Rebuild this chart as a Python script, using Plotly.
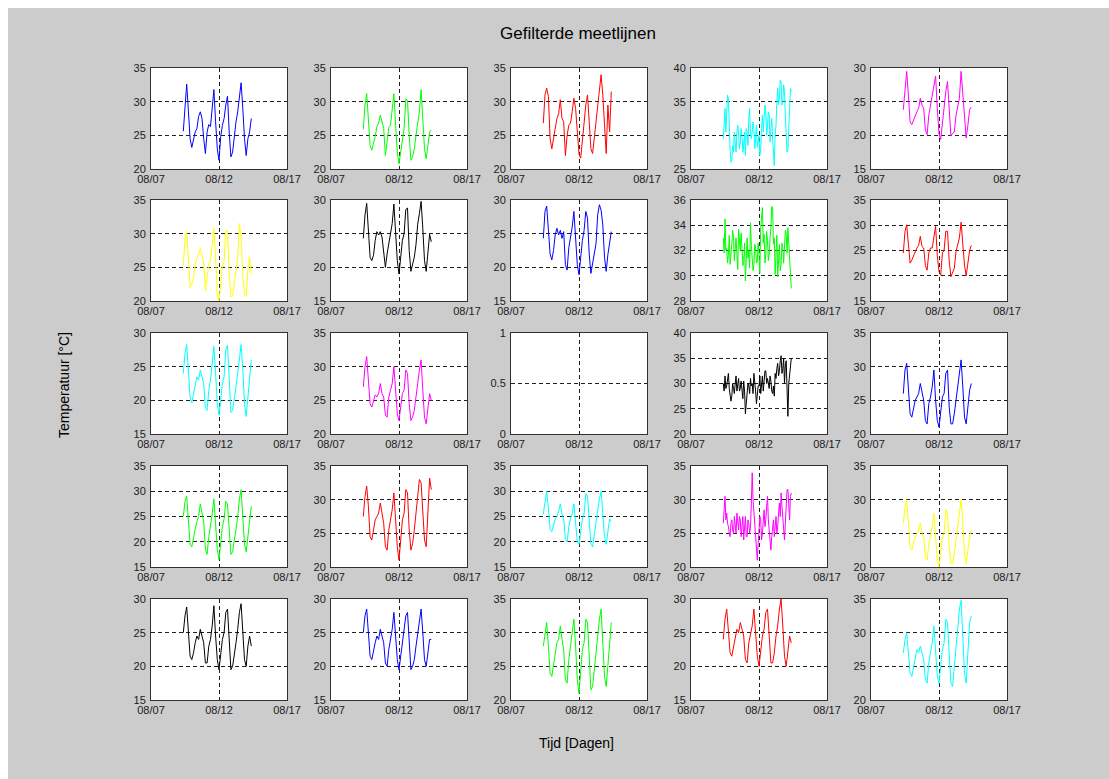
import pandas as pd
import plotly.graph_objects as go

# Canvas size in pixels
W, H = 1109, 779

# Measurement timestamps, 9 Aug 09:00 .. 14 Aug 09:00
TIMES = pd.date_range("2010-08-09 09:00", periods=41, freq="3h")        # 3-hourly
TIMES_FINE = pd.date_range("2010-08-09 09:00", periods=81, freq="90min")  # 1.5-hourly

# Filtered temperature series per sensor [°C]
sensor_01 = [25.6, 28.8, 32.6, 28.6, 24.5, 23.2, 24.2, 25.5, 26.0, 27.8, 28.5, 27.5, 24.5, 22.3,
             25.5, 26.6, 26.3, 28.8, 31.8, 27.0, 23.0, 21.3, 24.8, 26.5, 27.5, 29.5, 30.8, 25.5,
             21.8, 22.5, 25.0, 27.0, 28.5, 30.5, 32.8, 29.0, 24.5, 22.0, 24.5, 25.5, 27.5]
sensor_02 = [25.9, 29.5, 31.2, 27.0, 23.5, 22.8, 23.8, 24.8, 26.3, 26.8, 28.0, 26.8, 26.0, 22.0,
             24.5, 26.2, 26.5, 28.5, 31.2, 26.5, 22.5, 20.8, 22.5, 24.5, 26.0, 30.4, 30.2, 25.0,
             21.3, 21.8, 23.0, 25.0, 26.5, 28.5, 31.8, 27.5, 23.0, 21.5, 23.5, 25.5, 25.8]
sensor_03 = [26.8, 31.0, 32.0, 30.8, 24.5, 23.0, 24.5, 26.0, 27.5, 28.2, 30.3, 27.5, 27.0, 22.0,
             25.0, 26.5, 26.8, 28.5, 30.5, 29.0, 25.5, 22.2, 21.6, 24.5, 27.5, 29.5, 31.0, 26.5,
             23.0, 22.3, 24.5, 27.0, 29.5, 31.5, 34.0, 31.0, 26.0, 22.3, 29.5, 25.5, 31.5]
sensor_04 = [29.5, 32.0, 34.0, 30.5, 33.0, 36.0, 35.5, 31.0, 27.8, 26.0,
             26.2, 28.5, 27.5, 30.5, 29.0, 27.5, 30.5, 31.5, 30.2, 28.0,
             29.0, 31.0, 30.0, 27.5, 28.5, 30.5, 27.0, 31.0, 30.5, 28.5,
             32.5, 34.0, 30.0, 29.5, 30.5, 32.0, 31.0, 28.0, 29.5, 31.5,
             28.2, 29.0, 30.0, 27.0, 28.0, 31.0, 33.0, 30.5, 32.0, 34.5,
             33.5, 30.0, 31.5, 33.5, 33.0, 29.0, 31.0, 32.5, 29.5, 27.5,
             25.5, 30.0, 31.5, 35.0, 37.0, 34.5, 35.5, 38.2, 37.8, 34.5,
             35.0, 37.5, 36.5, 33.0, 30.0, 27.5, 27.8, 30.5, 33.5, 37.0,
             36.5]
sensor_05 = [23.8, 26.5, 29.5, 26.0, 22.0, 21.6, 22.3, 23.0, 23.5, 24.0, 25.5, 24.5, 24.0, 20.8,
             20.1, 23.0, 24.5, 25.5, 27.5, 28.8, 24.0, 20.2, 19.4, 22.0, 23.6, 26.5, 28.0, 23.5,
             19.9, 20.3, 20.5, 23.0, 24.3, 25.5, 29.5, 26.0, 22.0, 19.6, 21.5, 23.8, 24.2]
sensor_06 = [25.3, 29.3, 30.3, 26.5, 22.0, 22.5, 23.5, 25.5, 26.3, 27.0, 27.8, 26.8, 25.5, 21.5,
             23.5, 25.5, 26.0, 28.5, 30.8, 26.5, 21.0, 20.0, 23.0, 25.3, 25.8, 30.5, 30.4, 24.0,
             20.6, 20.8, 22.5, 24.3, 26.5, 31.5, 29.5, 24.0, 20.8, 20.7, 24.5, 26.5, 24.0]
sensor_07 = [24.3, 27.8, 29.5, 25.5, 21.5, 21.0, 21.8, 24.0, 25.3, 24.8, 25.3, 24.5, 22.5, 20.0,
             22.0, 23.5, 24.8, 26.5, 29.4, 24.5, 21.0, 19.0, 21.5, 24.0, 25.0, 28.6, 28.8, 22.5,
             19.4, 20.5, 21.5, 23.4, 26.4, 28.0, 29.8, 25.8, 21.0, 19.4, 22.9, 24.9, 23.8]
sensor_08 = [24.3, 28.3, 29.1, 25.8, 22.0, 21.1, 22.5, 24.8, 25.8, 24.8, 25.5, 24.3, 25.3, 20.4,
             19.6, 22.9, 24.3, 26.0, 28.3, 24.8, 20.4, 18.9, 22.0, 24.0, 25.5, 28.3, 27.3, 22.0,
             19.1, 20.4, 22.0, 23.5, 27.8, 29.3, 28.5, 26.3, 21.5, 19.4, 21.9, 23.8, 25.3]
sensor_09 = [33.0, 31.8, 34.5, 32.0, 32.2, 31.0, 31.7, 33.2, 30.9, 31.5,
             32.5, 33.6, 33.0, 31.2, 32.0, 33.0, 31.7, 30.5, 33.7, 32.2,
             32.0, 33.4, 32.3, 30.8, 31.0, 32.6, 29.6, 31.5, 33.0, 31.4,
             32.0, 30.6, 34.2, 32.4, 31.7, 30.4, 30.9, 32.5, 32.2, 31.0,
             31.1, 32.6, 31.7, 30.2, 33.8, 34.8, 35.4, 32.6, 33.3, 31.0,
             31.7, 33.5, 32.8, 31.2, 31.7, 33.0, 33.8, 35.5, 35.4, 32.5,
             33.0, 30.1, 31.5, 33.2, 29.9, 31.0, 32.5, 30.4, 30.9, 32.6,
             32.2, 31.0, 32.8, 33.6, 33.3, 31.8, 33.8, 32.4, 31.7, 30.3,
             29.0]
sensor_10 = [24.5, 28.8, 30.1, 26.5, 22.5, 23.1, 24.0, 25.0, 25.5, 26.0, 27.8, 25.8, 25.5, 22.0,
             21.1, 24.5, 25.5, 25.5, 27.5, 29.8, 24.0, 20.8, 20.1, 24.5, 25.1, 28.8, 28.8, 23.0,
             19.8, 20.5, 21.5, 24.8, 26.0, 27.5, 30.6, 26.8, 22.1, 20.0, 23.0, 25.0, 26.0]
sensor_11 = [24.0, 27.0, 28.3, 25.0, 20.5, 19.6, 21.0, 22.5, 23.5, 23.0, 24.5, 23.5, 22.5, 18.8,
             18.5, 21.5, 23.0, 25.5, 28.0, 24.0, 19.5, 17.8, 20.5, 22.5, 23.5, 27.5, 28.2, 22.5,
             18.2, 18.5, 20.0, 22.0, 24.0, 26.5, 28.3, 24.5, 19.5, 17.6, 20.5, 24.0, 26.0]
sensor_12 = [27.0, 30.0, 31.5, 28.0, 24.5, 24.0, 25.0, 25.8, 25.5, 26.0, 27.5, 26.0, 25.5, 22.8,
             22.5, 25.5, 26.5, 27.5, 30.0, 26.0, 23.0, 22.0, 24.0, 26.0, 26.5, 29.5, 29.0, 24.5,
             22.0, 22.5, 23.5, 26.0, 27.5, 29.5, 31.0, 26.5, 22.5, 21.5, 23.5, 26.0, 25.0]
sensor_13 = []  # no valid readings
sensor_14 = [30.0, 28.5, 31.5, 29.0, 29.5, 31.0, 32.0, 29.0, 28.0, 26.5,
             27.5, 30.0, 29.0, 28.0, 30.0, 31.5, 28.5, 30.0, 31.0, 28.5,
             29.0, 30.5, 28.0, 27.0, 30.5, 28.5, 24.0, 26.5, 27.5, 30.0,
             29.5, 28.0, 31.0, 29.5, 30.0, 28.0, 32.0, 30.5, 28.5, 26.0,
             27.5, 29.5, 29.5, 31.5, 28.0, 29.5, 31.5, 28.5, 30.0, 32.5,
             32.5, 30.0, 31.0, 29.5, 29.0, 31.5, 30.5, 28.5, 28.0, 29.5,
             27.5, 32.0, 31.0, 33.0, 34.0, 31.5, 32.5, 34.5, 35.5, 32.0,
             33.0, 35.0, 30.0, 33.5, 34.5, 29.0, 23.5, 30.0, 32.0, 34.0,
             35.0]
sensor_15 = [26.0, 29.5, 30.5, 27.0, 23.0, 22.5, 24.0, 25.0, 25.5, 26.0, 27.5, 26.0, 25.0, 22.0,
             21.5, 24.5, 25.5, 27.0, 29.5, 25.0, 22.0, 21.0, 23.5, 25.5, 26.0, 29.0, 29.5, 24.0,
             21.5, 21.5, 23.0, 25.0, 26.5, 28.5, 31.0, 27.0, 22.5, 21.5, 24.0, 26.5, 27.5]
sensor_16 = [25.0, 28.0, 29.0, 24.5, 19.5, 19.0, 21.0, 22.5, 24.0, 25.0, 27.5, 25.5, 24.0, 18.5,
             17.5, 21.0, 23.0, 25.5, 28.5, 24.0, 18.5, 16.5, 20.0, 23.0, 24.5, 28.0, 27.5, 21.5,
             17.5, 18.0, 20.0, 22.5, 25.0, 28.5, 30.3, 25.0, 19.5, 18.0, 21.0, 25.0, 27.0]
sensor_17 = [27.5, 30.5, 32.0, 29.0, 24.5, 24.0, 25.5, 27.0, 27.5, 28.0, 29.5, 28.0, 26.5, 23.0,
             22.5, 25.5, 27.0, 28.5, 31.0, 27.0, 23.0, 21.0, 24.0, 27.0, 28.0, 31.5, 31.0, 25.5,
             22.5, 23.5, 25.5, 28.0, 30.0, 33.0, 32.5, 29.0, 24.0, 23.0, 28.0, 33.2, 31.5]
sensor_18 = [25.5, 28.0, 30.0, 26.5, 22.5, 22.0, 23.5, 24.5, 25.0, 26.0, 27.5, 25.5, 24.5, 20.5,
             20.0, 23.0, 24.5, 25.5, 27.5, 24.0, 20.0, 19.5, 22.5, 24.5, 25.5, 29.5, 29.0, 23.5,
             19.5, 19.0, 21.5, 23.5, 25.5, 28.5, 30.0, 26.0, 21.0, 19.5, 22.0, 24.5, 24.0]
sensor_19 = [26.5, 29.0, 30.5, 27.0, 28.0, 26.5, 26.0, 25.0, 24.5, 26.5,
             27.0, 25.5, 25.0, 27.5, 26.5, 25.0, 28.0, 26.0, 25.5, 27.5,
             27.0, 24.5, 26.0, 27.5, 24.0, 25.5, 27.5, 24.5, 24.5, 27.0,
             26.5, 25.0, 26.0, 29.5, 34.0, 30.0, 28.0, 25.5, 24.0, 22.5,
             21.0, 23.5, 25.5, 27.5, 27.0, 24.0, 25.0, 27.0, 28.5, 26.0,
             27.0, 29.0, 30.5, 27.0, 25.5, 23.5, 22.5, 24.5, 26.0, 27.0,
             24.5, 26.0, 27.5, 25.0, 26.0, 28.0, 29.5, 27.5, 31.0, 29.0,
             27.0, 25.0, 24.0, 26.5, 28.5, 31.5, 31.5, 28.0, 27.0, 30.5,
             31.0]
sensor_20 = [26.5, 29.0, 30.0, 26.5, 23.0, 22.5, 23.5, 24.5, 25.0, 25.5, 26.5, 25.0, 24.5, 21.5,
             21.0, 23.5, 24.5, 26.0, 28.0, 24.5, 21.0, 20.0, 22.5, 24.5, 25.0, 28.5, 28.0, 23.0,
             20.5, 20.5, 22.0, 24.0, 25.5, 28.0, 30.0, 26.5, 22.0, 20.5, 22.5, 24.5, 25.5]
sensor_21 = [25.0, 27.5, 28.8, 25.5, 21.5, 21.0, 22.0, 23.5, 24.5, 24.0, 25.5, 24.5, 23.5, 20.5,
             20.5, 23.0, 24.0, 26.0, 29.0, 24.5, 21.0, 19.5, 22.0, 24.0, 25.0, 28.0, 28.5, 23.0,
             19.5, 20.0, 21.5, 23.5, 25.5, 28.0, 29.3, 25.5, 21.0, 20.0, 23.0, 24.5, 23.0]
sensor_22 = [25.0, 27.5, 28.5, 25.0, 21.5, 21.0, 22.5, 23.5, 24.5, 24.0, 25.5, 24.5, 23.5, 20.5,
             20.0, 22.5, 24.0, 25.5, 28.0, 24.5, 21.0, 19.5, 21.5, 23.5, 25.0, 27.5, 28.0, 23.0,
             19.5, 20.0, 21.0, 23.0, 25.0, 27.0, 28.5, 25.0, 21.0, 20.0, 22.5, 24.0, 24.0]
sensor_23 = [28.0, 30.0, 31.5, 28.0, 24.0, 23.5, 25.0, 27.0, 28.5, 29.0, 31.0, 29.0, 27.5, 23.0,
             22.5, 26.0, 28.0, 29.5, 32.0, 28.0, 23.0, 21.0, 24.5, 27.5, 28.5, 32.0, 31.5, 25.5,
             21.5, 22.0, 24.5, 27.5, 29.5, 32.0, 33.5, 29.0, 23.5, 22.0, 25.0, 29.0, 31.5]
sensor_24 = [24.0, 27.0, 28.5, 25.0, 22.0, 21.5, 23.0, 24.5, 25.5, 25.0, 26.5, 25.5, 24.5, 21.0,
             20.5, 23.5, 25.0, 26.0, 28.5, 25.0, 21.5, 20.0, 22.5, 24.5, 25.5, 28.0, 28.5, 23.5,
             20.5, 20.5, 22.0, 24.5, 26.0, 28.5, 30.0, 26.0, 21.5, 20.0, 22.5, 24.5, 23.5]
sensor_25 = [27.0, 29.0, 30.0, 27.0, 24.0, 23.5, 25.0, 26.5, 27.5, 27.0, 28.0, 27.0, 26.0, 23.0,
             22.5, 25.5, 27.0, 28.5, 31.0, 26.5, 23.5, 22.5, 25.0, 27.5, 28.5, 32.0, 31.5, 26.5,
             22.5, 22.0, 25.0, 28.5, 31.0, 33.5, 34.8, 30.0, 24.0, 22.5, 27.0, 31.5, 32.5]

SERIES = [sensor_01, sensor_02, sensor_03, sensor_04, sensor_05,
          sensor_06, sensor_07, sensor_08, sensor_09, sensor_10,
          sensor_11, sensor_12, sensor_13, sensor_14, sensor_15,
          sensor_16, sensor_17, sensor_18, sensor_19, sensor_20,
          sensor_21, sensor_22, sensor_23, sensor_24, sensor_25]

# Y-axis tick values per panel
Y_TICKS = [
    [20, 25, 30, 35], [20, 25, 30, 35], [20, 25, 30, 35], [25, 30, 35, 40], [15, 20, 25, 30],
    [20, 25, 30, 35], [15, 20, 25, 30], [15, 20, 25, 30], [28, 30, 32, 34, 36], [15, 20, 25, 30, 35],
    [15, 20, 25, 30], [20, 25, 30, 35], [0, 0.5, 1], [20, 25, 30, 35, 40], [20, 25, 30, 35],
    [15, 20, 25, 30, 35], [20, 25, 30, 35], [15, 20, 25, 30, 35], [20, 25, 30, 35], [20, 25, 30, 35],
    [15, 20, 25, 30], [15, 20, 25, 30], [20, 25, 30, 35], [15, 20, 25, 30], [20, 25, 30, 35],
]

# Date axis ticks
X_TICKS = ["2010-08-07", "2010-08-12", "2010-08-17"]
X_TICK_LABELS = ["08/07", "08/12", "08/17"]

# Line colours cycle b, g, r, c, m, y, k
COLOR_CYCLE = ["#0000ff", "#00ff00", "#ff0000", "#00ffff", "#ff00ff", "#ffff00", "#000000"]

TITLE = "Gefilterde meetlijnen"
X_LABEL = "Tijd [Dagen]"
Y_LABEL = "Temperatuur [°C]"

# Panel geometry (pixels)
COL_LEFT = [151, 331, 511, 691, 871]
ROW_TOP = [68, 200, 333, 466, 599]
PW, PH = 136, 101

FONT = "Liberation Sans, Arial, sans-serif"

fig = go.Figure()
layout_axes = {}

for k, values in enumerate(SERIES):
    r, c = divmod(k, 5)
    sfx = "" if k == 0 else str(k + 1)
    x0 = COL_LEFT[c] / W
    x1 = (COL_LEFT[c] + PW) / W
    y1 = 1 - ROW_TOP[r] / H
    y0 = 1 - (ROW_TOP[r] + PH) / H

    times = TIMES_FINE if len(values) == len(TIMES_FINE) else TIMES
    fig.add_trace(go.Scatter(
        x=list(times[:len(values)]), y=values,
        mode="lines",
        line=dict(color=COLOR_CYCLE[k % 7], width=1),
        xaxis="x" + sfx, yaxis="y" + sfx,
        showlegend=False, hoverinfo="skip",
    ))

    yt = Y_TICKS[k]
    common = dict(
        showline=True, mirror=True, linecolor="#303030", linewidth=1,
        showgrid=True, gridcolor="#202020", gridwidth=1, griddash="4px,3px",
        zeroline=False, ticks="", fixedrange=True, automargin=False,
        tickfont=dict(family=FONT, size=11, color="#202020"),
    )
    layout_axes["xaxis" + sfx] = dict(
        common, domain=[x0, x1], anchor="y" + sfx, type="date",
        range=[X_TICKS[0], X_TICKS[-1]],
        tickmode="array", tickvals=X_TICKS, ticktext=X_TICK_LABELS,
        ticklabelstandoff=0,
    )
    layout_axes["yaxis" + sfx] = dict(
        common, domain=[y0, y1], anchor="x" + sfx,
        range=[yt[0], yt[-1]],
        tickmode="array", tickvals=yt, ticktext=[f"{v:g}" for v in yt],
        ticklabelstandoff=2,
    )

fig.update_layout(**layout_axes)

fig.update_layout(
    template="none",
    width=W, height=H, autosize=False,
    margin=dict(l=0, r=0, t=0, b=0, pad=0, autoexpand=False),
    paper_bgcolor="#cccccc",
    plot_bgcolor="#ffffff",
    font=dict(family=FONT, color="#000000"),
    shapes=[
        dict(type="rect", xref="paper", yref="paper", x0=0, x1=1, y0=1 - 8 / H, y1=1,
             fillcolor="#ffffff", line=dict(width=0), layer="below"),
        dict(type="rect", xref="paper", yref="paper", x0=0, x1=8 / W, y0=0, y1=1,
             fillcolor="#ffffff", line=dict(width=0), layer="below"),
    ],
    annotations=[
        dict(text=TITLE, x=578 / W, y=1 - 34 / H, xref="paper", yref="paper",
             showarrow=False, xanchor="center", yanchor="middle",
             font=dict(family=FONT, size=17, color="#000000")),
        dict(text=X_LABEL, x=576 / W, y=1 - 743 / H, xref="paper", yref="paper",
             showarrow=False, xanchor="center", yanchor="middle",
             font=dict(family=FONT, size=14, color="#000000")),
        dict(text=Y_LABEL, x=64 / W, y=1 - 385 / H, xref="paper", yref="paper",
             showarrow=False, xanchor="center", yanchor="middle", textangle=-90,
             font=dict(family=FONT, size=14, color="#000000")),
    ],
)

fig.write_html("out.html")
